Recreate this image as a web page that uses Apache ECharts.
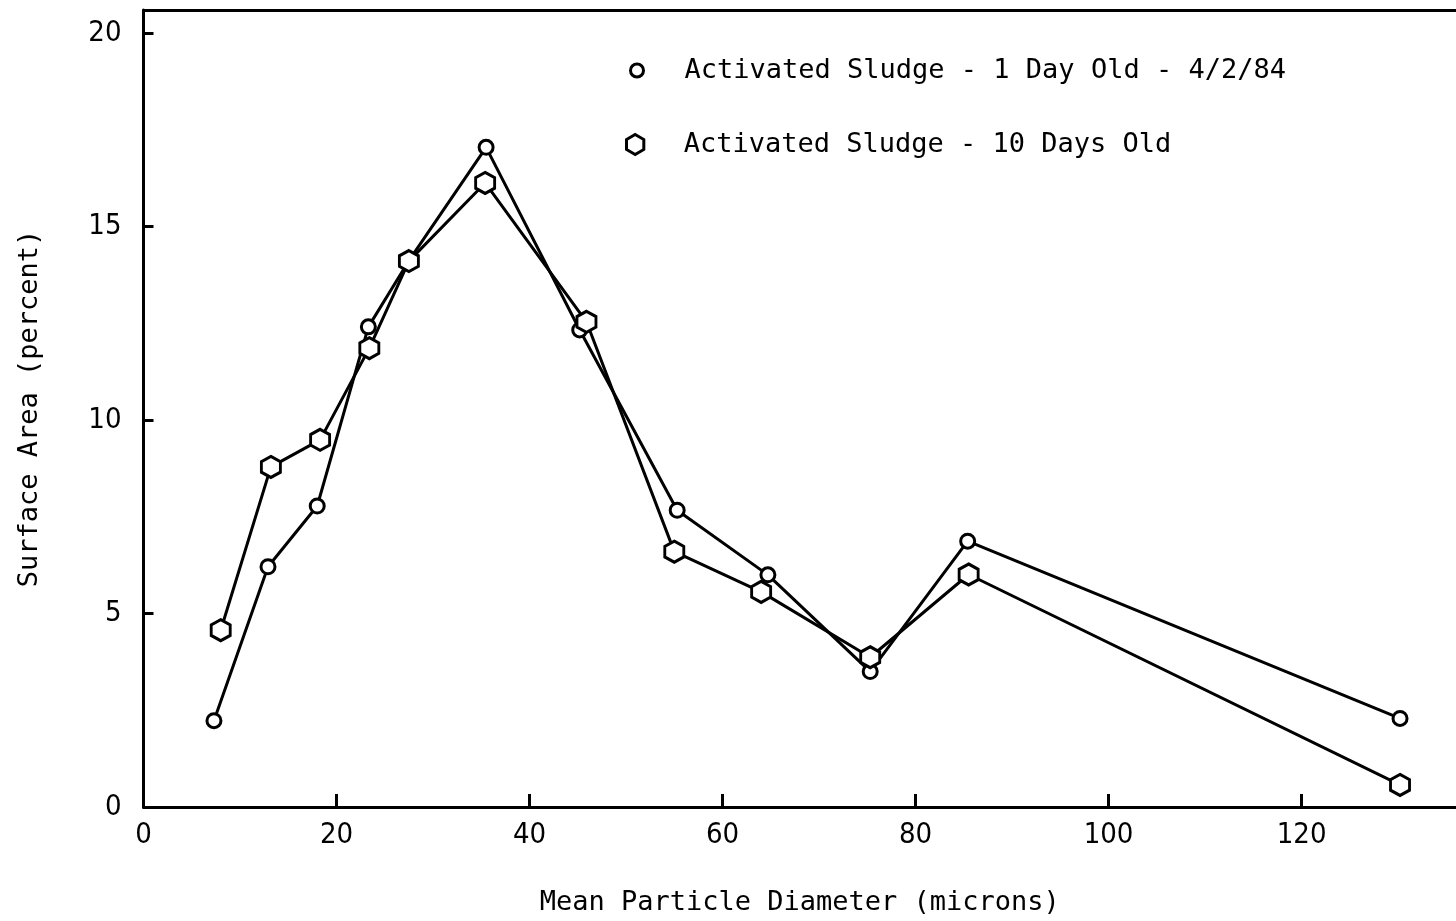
<!DOCTYPE html>
<html>
<head>
<meta charset="utf-8">
<script src="https://cdn.jsdelivr.net/npm/echarts@6/dist/echarts.min.js"></script>
<style>
html,body{margin:0;padding:0;background:#fff;}
#chart{width:1456px;height:921px;}
</style>
</head>
<body>
<div id="chart"></div>
<script>
// Data
const seriesNames = ['Activated Sludge - 1 Day Old - 4/2/84', 'Activated Sludge - 10 Days Old'];
const day1X = [7.3, 12.9, 18.0, 23.3, 27.5, 35.5, 45.2, 55.3, 64.7, 75.3, 85.4, 130.2];
const day1Y = [2.23, 6.21, 7.78, 12.41, 14.12, 17.05, 12.33, 7.67, 6.0, 3.50, 6.87, 2.29];
const day10X = [8.0, 13.2, 18.3, 23.4, 27.5, 35.4, 45.9, 55.0, 64.0, 75.3, 85.5, 130.2];
const day10Y = [4.57, 8.79, 9.49, 11.86, 14.11, 16.13, 12.54, 6.60, 5.56, 3.87, 6.01, 0.57];
const xTicks = [0, 20, 40, 60, 80, 100, 120];
const yTicks = [0, 5, 10, 15, 20];
const xTitle = 'Mean Particle Diameter (microns)';
const yTitle = 'Surface Area (percent)';

const hexPath = 'path://M0,-10 L8.66,-5 L8.66,5 L0,10 L-8.66,5 L-8.66,-5 Z';
const mono = '"DejaVu Sans Mono", "Liberation Mono", monospace';
const narrow = '"Liberation Sans Narrow", "DejaVu Sans Condensed", "Liberation Sans", sans-serif';

const pairs = (xs, ys) => xs.map((x, i) => [x, ys[i]]);

const chart = echarts.init(document.getElementById('chart'), null, {renderer: 'canvas'});
chart.setOption({
  backgroundColor: '#ffffff',
  animation: false,
  grid: {left: 143.5, top: 10, right: 0, bottom: 111, containLabel: false},
  legend: [
    {
      data: [{name: seriesNames[0], icon: 'circle'}],
      left: 624, top: 52,
      itemWidth: 13, itemHeight: 13,
      itemStyle: {color: '#fff', borderColor: '#000', borderWidth: 3},
      textStyle: {fontFamily: mono, fontSize: 27, color: '#000', padding: [0, 0, 0, 36]},
      selectedMode: false
    },
    {
      data: [{name: seriesNames[1], icon: hexPath}],
      left: 620, top: 126,
      itemWidth: 19, itemHeight: 20,
      itemStyle: {color: '#fff', borderColor: '#000', borderWidth: 3},
      textStyle: {fontFamily: mono, fontSize: 27, color: '#000', padding: [0, 0, 0, 34]},
      selectedMode: false
    }
  ],
  xAxis: [
    {
      type: 'value', min: 0, max: 136, interval: 20,
      name: xTitle, nameLocation: 'middle', nameGap: 82,
      nameTextStyle: {fontFamily: mono, fontSize: 27, color: '#000'},
      axisLine: {show: true, onZero: false, lineStyle: {color: '#000', width: 3}},
      axisTick: {show: true, inside: true, length: 13, lineStyle: {color: '#000', width: 3}},
      axisLabel: {
        fontFamily: narrow, fontSize: 29, color: '#000', margin: 14,
        showMaxLabel: false,
        formatter: v => xTicks.includes(v) ? String(v) : ''
      },
      splitLine: {show: false}
    },
    {
      type: 'value', position: 'top', min: 0, max: 136,
      axisLine: {show: true, onZero: false, lineStyle: {color: '#000', width: 3}},
      axisTick: {show: false}, axisLabel: {show: false}, splitLine: {show: false}
    }
  ],
  yAxis: {
    type: 'value', min: 0, max: 20.6, interval: 5,
    name: yTitle, nameLocation: 'middle', nameGap: 100,
    nameTextStyle: {fontFamily: mono, fontSize: 27, color: '#000'},
    axisLine: {show: true, onZero: false, lineStyle: {color: '#000', width: 3}},
    axisTick: {show: true, inside: true, length: 10, lineStyle: {color: '#000', width: 3}},
    axisLabel: {
      fontFamily: narrow, fontSize: 29, color: '#000', margin: 22,
      showMaxLabel: false,
      formatter: v => yTicks.includes(v) ? String(v) : ''
    },
    splitLine: {show: false}
  },
  series: [
    {
      name: seriesNames[0], type: 'line', xAxisIndex: 0,
      data: pairs(day1X, day1Y),
      symbol: 'circle', symbolSize: 14, showAllSymbol: true,
      lineStyle: {color: '#000', width: 3},
      itemStyle: {color: '#fff', borderColor: '#000', borderWidth: 3},
      z: 3
    },
    {
      name: seriesNames[1], type: 'line', xAxisIndex: 0,
      data: pairs(day10X, day10Y),
      symbol: hexPath, symbolSize: [19, 21], showAllSymbol: true,
      lineStyle: {color: '#000', width: 3},
      itemStyle: {color: '#fff', borderColor: '#000', borderWidth: 3},
      z: 4
    }
  ]
});
</script>
</body>
</html>
